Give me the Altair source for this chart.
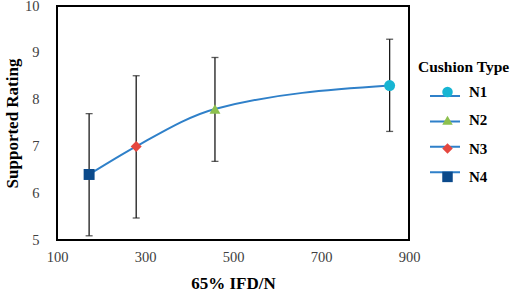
import altair as alt
import pandas as pd

cushion = ["N1", "N2", "N3", "N4"]
ifd = [856, 459, 280, 173]
rating = [8.3, 7.8, 7.0, 6.4]
err_low = [7.32, 6.68, 5.47, 5.09]
err_high = [9.29, 8.9, 8.51, 7.7]

marker_colors = ["#17B5D3", "#8DC04E", "#E5473F", "#0B4A8B"]
marker_shapes = ["circle", "triangle-up", "diamond", "square"]
line_color = "#2F80C9"
FONT = "Liberation Serif"

df = pd.DataFrame({"Cushion Type": cushion, "ifd": ifd, "rating": rating,
                   "lo": err_low, "hi": err_high})

x_enc = alt.X("ifd:Q", title="65% IFD/N",
              scale=alt.Scale(domain=[100, 900], nice=False),
              axis=alt.Axis(values=[100, 300, 500, 700, 900], grid=False, domain=False,
                            ticks=False, labelPadding=10, titlePadding=12, labelFlush=False))
y_enc = alt.Y("rating:Q", title="Supported Rating",
              scale=alt.Scale(domain=[5, 10], nice=False, zero=False),
              axis=alt.Axis(values=[5, 6, 7, 8, 9, 10], grid=False, domain=False,
                            ticks=False, labelPadding=18, titlePadding=3, labelFlush=False))

base = alt.Chart(df)

line = base.mark_line(interpolate="monotone", color=line_color, strokeWidth=2).encode(
    x=x_enc, y=y_enc, order="ifd:Q")

rules = base.mark_rule(color="#1a1a1a", strokeWidth=1.3).encode(
    x="ifd:Q", y="lo:Q", y2="hi:Q")
cap_lo = base.mark_tick(color="#1a1a1a", orient="horizontal", size=7, thickness=1.3).encode(
    x="ifd:Q", y="lo:Q")
cap_hi = base.mark_tick(color="#1a1a1a", orient="horizontal", size=7, thickness=1.3).encode(
    x="ifd:Q", y="hi:Q")

# legend helper: line symbols (single-point groups draw nothing)
line_keys = [c + " " for c in cushion]
legend_lines = base.transform_calculate(ct2="datum['Cushion Type'] + ' '").mark_line(
    strokeWidth=2, color=line_color).encode(
    x="ifd:Q", y="rating:Q",
    strokeDash=alt.StrokeDash("ct2:N",
                    scale=alt.Scale(domain=line_keys, range=[[1, 0]] * 4),
                    legend=alt.Legend(orient="none", legendX=372, legendY=74,
                                      title=None, symbolType="stroke", symbolSize=900,
                                      symbolStrokeWidth=2, symbolStrokeColor=line_color,
                                      labelExpr="''",
                                      labelFontSize=15, rowPadding=1.4, padding=0)))

points = base.mark_point(filled=True, size=120, opacity=1).encode(
    x="ifd:Q", y="rating:Q",
    color=alt.Color("Cushion Type:N",
                    scale=alt.Scale(domain=cushion, range=marker_colors),
                    legend=alt.Legend(orient="none", legendX=361, legendY=54,
                                      title="Cushion Type", titleFont=FONT,
                                      titleFontSize=15.5, titleFontWeight="bold",
                                      titleColor="#000", titlePadding=9,
                                      labelFont=FONT, labelFontSize=15,
                                      labelFontWeight="bold", labelColor="#000",
                                      symbolSize=110, symbolOffset=22, labelOffset=14,
                                      rowPadding=12.3, padding=0)),
    shape=alt.Shape("Cushion Type:N",
                    scale=alt.Scale(domain=cushion, range=marker_shapes)))

chart = alt.layer(line, rules, cap_lo, cap_hi, legend_lines, points).properties(
    width=352, height=234,
    autosize=alt.AutoSizeParams(type="none"),
    padding={"left": 57, "top": 6, "right": 103, "bottom": 53},
    background="white",
).configure_view(
    stroke="#000", strokeWidth=2
).configure_axis(
    labelFont=FONT, labelFontSize=14.5, labelColor="#404040",
    titleFont=FONT, titleFontSize=17, titleFontWeight="bold", titleColor="#000",
)

chart.save("out.html", embed_options={"renderer": "svg", "actions": False})
